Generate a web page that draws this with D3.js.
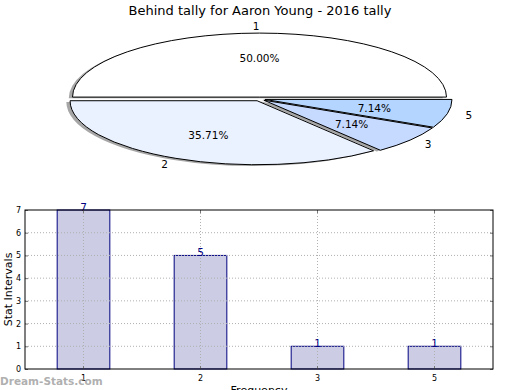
<!DOCTYPE html>
<html><head><meta charset="utf-8">
<script src="https://cdn.jsdelivr.net/npm/d3@7"></script>
<style>body{margin:0;background:#fff;}svg{display:block;font-family:"DejaVu Sans",sans-serif;}</style>
</head><body>
<svg id="c" width="520" height="390"></svg>
<script>
const title = "Behind tally for Aaron Young - 2016 tally";
const categories = ["1", "2", "3", "5"];
const values = [7, 5, 1, 1];
const sliceColors = ["#ffffff", "#eaf1ff", "#c6d9ff", "#b4d5ff"];
const yTicks = [0, 1, 2, 3, 4, 5, 6, 7];
const yLabel = "Stat Intervals";
const xLabel = "Frequency";
const watermark = "Dream-Stats.com";

const svg = d3.select("#c");
svg.append("rect").attr("width", 520).attr("height", 390).attr("fill", "#fff");

svg.append("text").attr("x", 260).attr("y", 15).attr("text-anchor", "middle")
  .attr("font-size", 13).attr("fill", "#000").text(title);

// ---- Pie ----
const cx = 259.5, cy = 99, rx = 187, ry = 64, explode = 0.03;
const total = d3.sum(values);
const pie = d3.pie().sort(null).startAngle(Math.PI / 2).endAngle(Math.PI / 2 - 2 * Math.PI);
const arcs = pie(values);
const arc = d3.arc().innerRadius(0).outerRadius(1);
const pieG = svg.append("g");

function offset(d) {
  const m = (d.startAngle + d.endAngle) / 2;
  return [Math.sin(m), -Math.cos(m)];
}
arcs.forEach((d, i) => {
  const [ux, uy] = offset(d);
  const ox = cx + ux * explode * rx - 0.02 * rx, oy = cy + uy * explode * ry + 0.02 * ry;
  pieG.append("path").attr("d", arc(d))
    .attr("transform", `translate(${ox},${oy}) scale(${rx},${ry})`)
    .attr("fill", "#000").attr("fill-opacity", 0.35).attr("stroke", "none");
});
arcs.forEach((d, i) => {
  const [ux, uy] = offset(d);
  const ox = cx + ux * explode * rx, oy = cy + uy * explode * ry;
  pieG.append("path").attr("d", arc(d))
    .attr("transform", `translate(${ox},${oy}) scale(${rx},${ry})`)
    .attr("fill", sliceColors[i]).attr("stroke", "#000")
    .attr("stroke-width", 1).attr("vector-effect", "non-scaling-stroke");
});
arcs.forEach((d, i) => {
  const [ux, uy] = offset(d);
  const ox = cx + ux * explode * rx, oy = cy + uy * explode * ry;
  const lx = ox + ux * 1.1 * rx, ly = oy + uy * 1.1 * ry;
  pieG.append("text").attr("x", lx).attr("y", ly).attr("dy", "0.35em")
    .attr("text-anchor", ux > 1e-9 ? "start" : "end")
    .attr("font-size", 10.5).attr("fill", "#000").text(categories[i]);
  const px = ox + ux * 0.6 * rx, py = oy + uy * 0.6 * ry;
  pieG.append("text").attr("x", px).attr("y", py).attr("dy", "0.35em")
    .attr("text-anchor", "middle").attr("font-size", 10.5).attr("fill", "#000")
    .text((d.value / total * 100).toFixed(2) + "%");
});

// ---- Bar chart ----
const L = 25, R = 493, T = 210, B = 369;
const x = d3.scaleBand().domain(categories).range([L, R]).paddingInner(0.55).paddingOuter(0.275);
const y = d3.scaleLinear().domain([0, 7]).range([B, T]);
const g = svg.append("g");
const xc = c => x(c) + x.bandwidth() / 2;

g.selectAll(".bar").data(values).enter().append("rect")
  .attr("x", (d, i) => x(categories[i])).attr("width", x.bandwidth())
  .attr("y", d => y(d)).attr("height", d => B - y(d))
  .attr("fill", "#ccccE5").attr("stroke", "#000080").attr("stroke-width", 1);

g.selectAll(".gx").data(categories).enter().append("line")
  .attr("x1", d => xc(d)).attr("x2", d => xc(d)).attr("y1", T).attr("y2", B)
  .attr("stroke", "#b0b0b0").attr("stroke-dasharray", "1,2").attr("stroke-width", 1);
g.selectAll(".gy").data(yTicks.slice(1, -1)).enter().append("line")
  .attr("x1", L).attr("x2", R).attr("y1", d => y(d)).attr("y2", d => y(d))
  .attr("stroke", "#b0b0b0").attr("stroke-dasharray", "1,2").attr("stroke-width", 1);

g.selectAll(".vl").data(values).enter().append("text")
  .attr("x", (d, i) => xc(categories[i])).attr("y", d => y(d) + 0.5)
  .attr("text-anchor", "middle").attr("font-size", 10.5).attr("fill", "#000080")
  .text(d => d);

const yAxis = d3.axisLeft(y).tickValues(yTicks).tickFormat(d3.format("d")).tickSize(-3).tickPadding(4);
const ya = g.append("g").attr("transform", `translate(${L},0)`).call(yAxis);
ya.select(".domain").remove();
ya.selectAll("text").attr("font-size", 8).attr("font-family", "DejaVu Sans").attr("fill", "#000");
ya.selectAll("line").attr("stroke", "#777");
const yR = g.append("g").attr("transform", `translate(${R},0)`).call(d3.axisRight(y).tickValues(yTicks).tickSize(-3).tickFormat(""));
yR.select(".domain").remove(); yR.selectAll("line").attr("stroke", "#777");
const xAxis = d3.axisBottom(x).tickSize(-3).tickPadding(6);
const xa = g.append("g").attr("transform", `translate(0,${B})`).call(xAxis);
xa.select(".domain").remove();
xa.selectAll("text").attr("font-size", 8).attr("font-family", "DejaVu Sans").attr("fill", "#000");
xa.selectAll("line").attr("stroke", "#777");
const xT = g.append("g").attr("transform", `translate(0,${T})`).call(d3.axisTop(x).tickSize(-3).tickFormat(""));
xT.select(".domain").remove(); xT.selectAll("line").attr("stroke", "#777");

g.append("rect").attr("x", L).attr("y", T).attr("width", R - L).attr("height", B - T)
  .attr("fill", "none").attr("stroke", "#000").attr("stroke-width", 1);

svg.append("text").attr("transform", `translate(12,${(T + B) / 2}) rotate(-90)`)
  .attr("text-anchor", "middle").attr("font-size", 11).attr("fill", "#000").text(yLabel);
svg.append("text").attr("x", (L + R) / 2).attr("y", 394).attr("text-anchor", "middle")
  .attr("font-size", 11).attr("fill", "#000").text(xLabel);

svg.append("text").attr("x", 0).attr("y", 385).attr("font-size", 10.5).attr("font-weight", "bold")
  .attr("fill", "#9a9a9a").attr("fill-opacity", 0.8).text(watermark);
</script>
</body></html>
